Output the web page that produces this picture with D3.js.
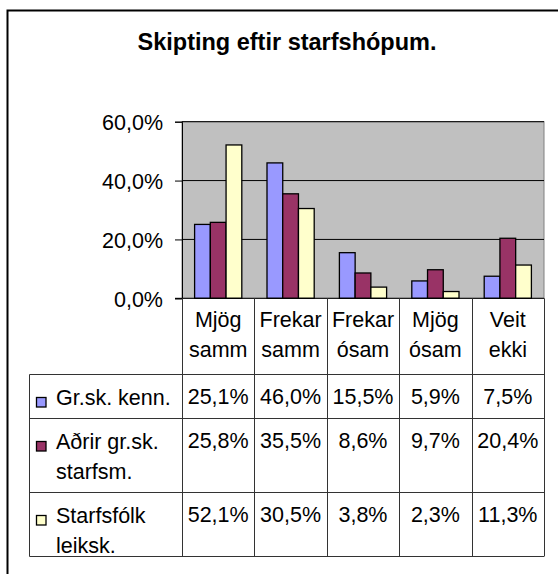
<!DOCTYPE html>
<html>
<head>
<meta charset="utf-8">
<script src="https://cdn.jsdelivr.net/npm/d3@7"></script>
<style>
  body { margin: 0; background: #fff; }
  svg { display: block; font-family: "Liberation Sans", Arial, sans-serif; }
</style>
</head>
<body>
<div id="chart"></div>
<script>
var width = 558;
var height = 574;

// flokkar (tvær línur í hverjum haus)
var categories = [["Mjög", "samm"], ["Frekar", "samm"], ["Frekar", "ósam"], ["Mjög", "ósam"], ["Veit", "ekki"]];
var seriesNames = [["Gr.sk. kenn."], ["Aðrir gr.sk.", "starfsm."], ["Starfsfólk", "leiksk."]];
var seriesColors = ["#9999FF", "#993366", "#FFFFCC"];
var grskKenn = [25.1, 46.0, 15.5, 5.9, 7.5];
var adrirStarfsm = [25.8, 35.5, 8.6, 9.7, 20.4];
var starfsfolkLeiksk = [52.1, 30.5, 3.8, 2.3, 11.3];
var yTicks = [0, 20, 40, 60];

var seriesValues = [grskKenn, adrirStarfsm, starfsfolkLeiksk];
var fmt = v => v.toFixed(1).replace(".", ",") + "%";
var fontSize = "21.5px";

const svg = d3.select("#chart").append("svg")
	.attr("width", width)
	.attr("height", height);

// rammi (fer út fyrir myndina til hægri og niður)
svg.append("path")
	.attr("d", "M7.5,600 V10.5 H600")
	.attr("fill", "none")
	.attr("stroke", "#000")
	.attr("stroke-width", 2);

svg.append("text")
	.attr("x", 287).attr("y", 50)
	.attr("text-anchor", "middle")
	.attr("font-size", "23.5px")
	.attr("font-weight", "bold")
	.text("Skipting eftir starfshópum.");

const plot = { left: 182, right: 544, top: 121.7, bottom: 298.3 };

const x0 = d3.scaleBand()
	.domain(d3.range(categories.length))
	.range([plot.left, plot.right]);

const x1 = d3.scaleBand()
	.domain(d3.range(seriesValues.length))
	.range([12.6, x0.bandwidth() - 12.6]);

const y = d3.scaleLinear()
	.domain([0, 60])
	.range([plot.bottom, plot.top]);

// bakgrunnur
svg.append("rect")
	.attr("x", plot.left).attr("y", plot.top)
	.attr("width", plot.right - plot.left)
	.attr("height", plot.bottom - plot.top)
	.attr("fill", "#C0C0C0")
	.attr("stroke", "#808080")
	.attr("stroke-width", 1);

// hnitalínur
svg.selectAll(".grid")
	.data(yTicks.filter(d => d > 0))
	.enter().append("line")
	.attr("x1", plot.left).attr("x2", plot.right)
	.attr("y1", d => y(d)).attr("y2", d => y(d))
	.attr("stroke", "#000")
	.attr("stroke-width", 1);

// y-ás
const yAxis = svg.append("g")
	.attr("transform", `translate(${plot.left},0)`)
	.call(d3.axisLeft(y).tickValues(yTicks).tickSize(7).tickPadding(12).tickFormat(fmt));
yAxis.select(".domain").attr("stroke", "#000");
yAxis.selectAll(".tick line").attr("stroke", "#000");
yAxis.selectAll(".tick text")
	.attr("font-size", fontSize)
	.attr("font-family", "Liberation Sans, Arial, sans-serif")
	.attr("fill", "#000")
	.attr("dy", "0.36em");

// súlur
const groups = svg.selectAll(".group")
	.data(categories.map((c, i) => i))
	.enter().append("g")
	.attr("transform", i => `translate(${x0(i)},0)`);

groups.selectAll("rect")
	.data(i => seriesValues.map((s, j) => ({ j: j, v: s[i] })))
	.enter().append("rect")
	.attr("x", d => x1(d.j))
	.attr("width", x1.bandwidth())
	.attr("y", d => y(d.v))
	.attr("height", d => y(0) - y(d.v))
	.attr("fill", d => seriesColors[d.j])
	.attr("stroke", "#000")
	.attr("stroke-width", 1.3);

// x-ás lína
svg.append("line")
	.attr("x1", plot.left - 7).attr("x2", plot.right)
	.attr("y1", plot.bottom).attr("y2", plot.bottom)
	.attr("stroke", "#000");

// gagnatafla
const table = { left: 29.5, rows: [374.5, 418.5, 492.5, 556.5] };
const lineColor = "#333";

// lóðréttar línur
const colEdges = x0.domain().map(i => x0(i)).concat([plot.right - 0.5]);
svg.selectAll(".vline")
	.data(colEdges)
	.enter().append("line")
	.attr("x1", d => Math.round(d) + 0.5).attr("x2", d => Math.round(d) + 0.5)
	.attr("y1", plot.bottom).attr("y2", table.rows[3])
	.attr("stroke", lineColor);

svg.append("line")
	.attr("x1", table.left).attr("x2", table.left)
	.attr("y1", table.rows[0]).attr("y2", table.rows[3])
	.attr("stroke", lineColor);

svg.selectAll(".hline")
	.data(table.rows)
	.enter().append("line")
	.attr("x1", table.left).attr("x2", plot.right)
	.attr("y1", d => d).attr("y2", d => d)
	.attr("stroke", lineColor);

// hausar flokka
const headers = svg.selectAll(".head")
	.data(categories)
	.enter().append("text")
	.attr("text-anchor", "middle")
	.attr("font-size", fontSize)
	.attr("fill", "#000");
headers.selectAll("tspan")
	.data((c, i) => c.map(t => ({ t: t, i: i })))
	.enter().append("tspan")
	.attr("x", d => x0(d.i) + x0.bandwidth() / 2)
	.attr("y", (d, k) => 327 + k * 30)
	.text(d => d.t);

// raðir: lykill, heiti, gildi
seriesNames.forEach((name, j) => {
	const top = table.rows[j];
	svg.append("rect")
		.attr("x", 36.5).attr("y", top + 23)
		.attr("width", 9.5).attr("height", 9.5)
		.attr("fill", seriesColors[j])
		.attr("stroke", "#000")
		.attr("stroke-width", 1.3);
	const t = svg.append("text")
		.attr("font-size", fontSize)
		.attr("fill", "#000");
	name.forEach((line, k) => {
		t.append("tspan")
			.attr("x", 56)
			.attr("y", top + 30 + k * 30)
			.text(line);
	});
	svg.selectAll(".val" + j)
		.data(seriesValues[j])
		.enter().append("text")
		.attr("x", (d, i) => x0(i) + x0.bandwidth() / 2)
		.attr("y", top + 29.5)
		.attr("text-anchor", "middle")
		.attr("font-size", fontSize)
		.attr("fill", "#000")
		.text(d => fmt(d));
});
</script>
</body>
</html>
